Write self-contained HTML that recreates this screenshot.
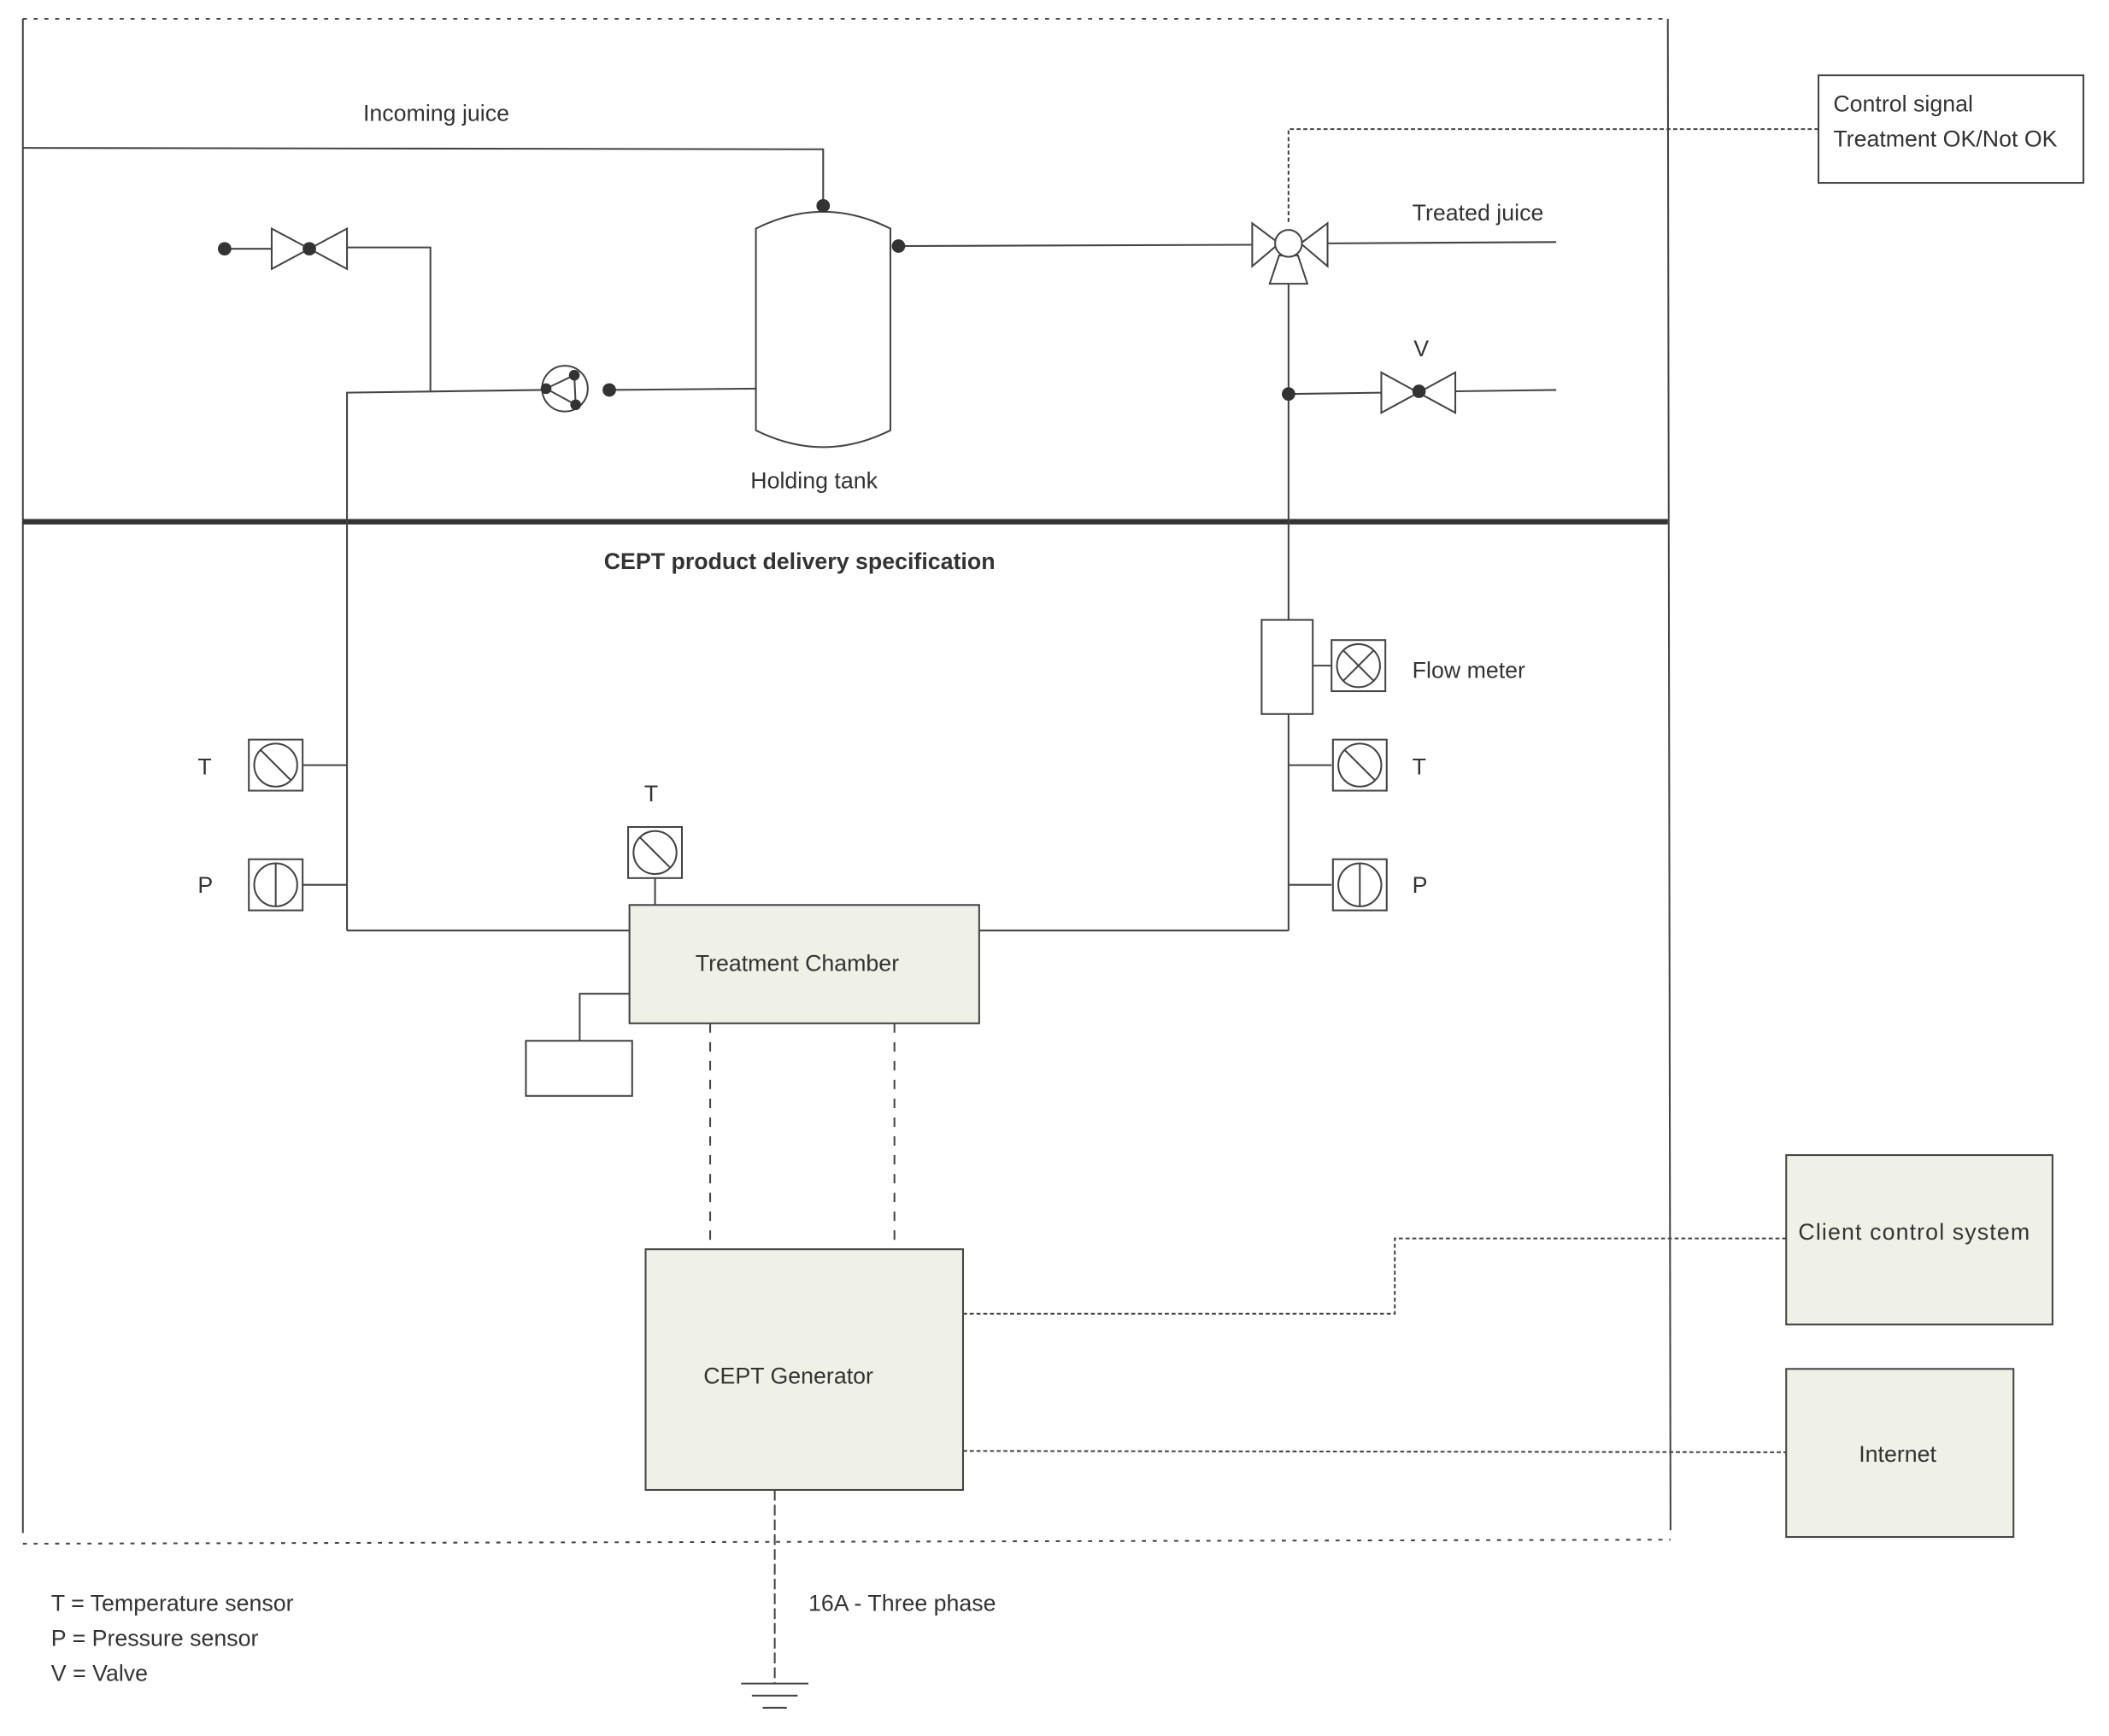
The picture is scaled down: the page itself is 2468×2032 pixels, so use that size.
<!DOCTYPE html>
<html><head><meta charset="utf-8"><style>
html,body{margin:0;padding:0;background:#fff;}
svg{display:block;}
text{font-family:"Liberation Sans",sans-serif;fill:#333;}
</style></head><body>
<svg width="2468" height="2032" viewBox="0 0 1568 1291" preserveAspectRatio="none" xmlns="http://www.w3.org/2000/svg">
<defs>
<g id="sT"><rect x="-20" y="-19" width="40" height="38" fill="#fff" stroke="#444" stroke-width="1.3"/><circle r="16" fill="none" stroke="#444" stroke-width="1.3"/><line x1="-11" y1="-11" x2="11" y2="11" stroke="#444" stroke-width="1.3"/></g>
<g id="sP"><rect x="-20" y="-19" width="40" height="38" fill="#fff" stroke="#444" stroke-width="1.3"/><circle r="16" fill="none" stroke="#444" stroke-width="1.3"/><line x1="0" y1="-16" x2="0" y2="16" stroke="#444" stroke-width="1.3"/></g>
<g id="sF"><rect x="-20" y="-19" width="40" height="38" fill="#fff" stroke="#444" stroke-width="1.3"/><circle r="16" fill="none" stroke="#444" stroke-width="1.3"/><line x1="-11" y1="-11" x2="11" y2="11" stroke="#444" stroke-width="1.3"/><line x1="11" y1="-11" x2="-11" y2="11" stroke="#444" stroke-width="1.3"/></g>
</defs>
<g stroke="#444" stroke-width="1.3" fill="none">
<line x1="17" y1="14" x2="1240" y2="14" stroke-dasharray="3,5"/>
<line x1="17" y1="14" x2="17" y2="1140"/>
<line x1="1240" y1="14" x2="1242" y2="1138"/>
<line x1="17" y1="1148" x2="1242" y2="1145" stroke-dasharray="3,5"/>
<line x1="17" y1="388" x2="1240" y2="388" stroke="#333" stroke-width="4"/>
<polyline points="17,110 612,111 612,153"/>
<path d="M562,170 Q612,145 662,170 L662,320 Q612,345 562,320 Z" fill="#fff"/>
<line x1="668" y1="183" x2="932" y2="182"/>
<line x1="167" y1="185" x2="202" y2="185"/>
<polygon points="202,170 202,200 258,170 258,200" fill="#fff"/>
<polyline points="258,184 320,184 320,291"/>
<polyline points="258,692 258,292 403,290"/>
<circle cx="420" cy="289" r="17" fill="#fff"/>
<polyline points="406,289 427,279 428,301 406,289"/>
<line x1="453" y1="290" x2="562" y2="289"/>
<polygon points="931,166 951,181 931,198" fill="#fff"/>
<polygon points="987,166 967,181 987,198" fill="#fff"/>
<polygon points="951,190 965,190 972,211 944,211" fill="#fff"/>
<circle cx="958" cy="181" r="10" fill="#fff"/>
<line x1="987" y1="181" x2="1157" y2="180"/>
<polyline points="958,165 958,96 1352,96" stroke-dasharray="3,2"/>
<line x1="958" y1="211" x2="958" y2="462"/>
<line x1="958" y1="293" x2="1027" y2="292"/>
<polygon points="1027,277 1027,307 1082,277 1082,307" fill="#fff"/>
<line x1="1082" y1="291" x2="1157" y2="290"/>
<rect x="938" y="461" width="38" height="70" fill="#fff"/>
<line x1="976" y1="495" x2="990" y2="495"/>
<line x1="958" y1="531" x2="958" y2="692"/>
<polyline points="728,692 958,692"/>
<line x1="958" y1="569" x2="990" y2="569"/>
<line x1="958" y1="658" x2="990" y2="658"/>
<line x1="225" y1="569" x2="258" y2="569"/>
<line x1="225" y1="658" x2="258" y2="658"/>
<line x1="258" y1="692" x2="468" y2="692"/>
<line x1="487" y1="653" x2="487" y2="673"/>
<rect x="468" y="673" width="260" height="88" fill="#f0f1e6"/>
<polyline points="468,739 431,739 431,774"/>
<rect x="391" y="774" width="79" height="41" fill="#fff"/>
<line x1="528" y1="761" x2="528" y2="929" stroke-dasharray="7,7"/>
<line x1="665" y1="761" x2="665" y2="929" stroke-dasharray="7,7"/>
<rect x="480" y="929" width="236" height="179" fill="#f0f1e6"/>
<polyline points="716,977 1037,977 1037,921 1328,921" stroke-dasharray="3,2"/>
<line x1="716" y1="1079" x2="1328" y2="1080" stroke-dasharray="3,2"/>
<line x1="576" y1="1108" x2="576" y2="1252" stroke-dasharray="8,3"/>
<line x1="551" y1="1252" x2="601" y2="1252"/>
<line x1="559" y1="1261" x2="593" y2="1261"/>
<line x1="567" y1="1270" x2="585" y2="1270"/>
<rect x="1352" y="56" width="197" height="80" fill="#fff"/>
<rect x="1328" y="859" width="198" height="126" fill="#f0f1e6"/>
<rect x="1328" y="1018" width="169" height="125" fill="#f0f1e6"/>
</g>
<g fill="#333">
<circle cx="612" cy="153" r="5"/><circle cx="668" cy="183" r="5"/><circle cx="167" cy="185" r="5"/><circle cx="230" cy="185" r="5"/>
<circle cx="453" cy="290" r="5"/><circle cx="406" cy="289" r="4"/><circle cx="427" cy="279" r="4"/><circle cx="428" cy="301" r="4"/>
<circle cx="958" cy="293" r="5"/><circle cx="1055" cy="291" r="5"/>
</g>
<use href="#sT" x="205" y="569"/><use href="#sP" x="205" y="658"/>
<use href="#sT" x="487" y="634"/>
<use href="#sF" x="1010" y="495"/><use href="#sT" x="1011" y="569"/><use href="#sP" x="1011" y="658"/>
<g font-size="17">
<text x="270" y="90">Incoming juice</text>
<text x="558" y="363">Holding tank</text>
<text x="1050" y="164">Treated juice</text>
<text x="1051" y="265">V</text>
<text x="1363" y="83">Control signal</text>
<text x="1363" y="109">Treatment OK/Not OK</text>
<text x="449" y="423" font-weight="bold">CEPT product delivery specification</text>
<text x="1050" y="504">Flow meter</text>
<text x="147" y="576">T</text><text x="147" y="664">P</text>
<text x="479" y="596">T</text>
<text x="1050" y="576">T</text><text x="1050" y="664">P</text>
<text x="517" y="722">Treatment Chamber</text>
<text x="523" y="1029">CEPT Generator</text>
<text x="1337" y="922" textLength="172">Client  control system</text>
<text x="1382" y="1087">Internet</text>
<text x="601" y="1198">16A - Three phase</text>
<text x="38" y="1198">T = Temperature sensor</text>
<text x="38" y="1224">P = Pressure sensor</text>
<text x="38" y="1250">V = Valve</text>
</g>
</svg>
</body></html>
